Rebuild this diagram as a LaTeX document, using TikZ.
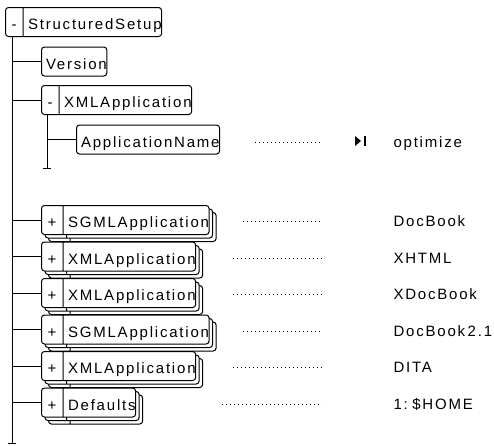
\documentclass[tikz,border=0pt]{standalone}
\usepackage{fontspec}
\setmainfont{Liberation Sans}[LetterSpace=12]
\usetikzlibrary{shapes.multipart,shadows}

% strut giving every element box the same height (22pt above, 7pt below the baseline)
\newcommand\boxstrut{\rule[-7pt]{0pt}{29pt}}
% sign cell of fixed width
\newcommand\sgn[2]{\boxstrut\makebox[#1pt]{#2}}
% label cell with side padding
\newcommand\lbl[1]{\boxstrut\hspace{4.5pt}#1\hspace{5pt}}
% narrow word space for the value column
\newcommand\narrowsp{\spaceskip=2.5pt\relax}

\begin{document}
\begin{tikzpicture}[x=1pt, y=-1pt, line width=1pt,
  every node/.style={font=\fontsize{15}{18}\selectfont},
  elem/.style={draw, fill=white, rounded corners=3pt, inner xsep=0pt, inner ysep=0pt, anchor=west},
  grp/.style={elem, rectangle split, rectangle split horizontal, rectangle split parts=2},
  stack/.style={
    copy shadow={shadow xshift=7pt, shadow yshift=-7pt, draw, fill=white},
    copy shadow={shadow xshift=3.5pt, shadow yshift=-3.5pt, draw, fill=white}},
  dots/.style={line width=0.8pt, dash pattern=on 0.8pt off 3.2pt},
  value/.style={anchor=west, inner sep=0pt, text height=10.7pt, text depth=0pt},
]
\useasboundingbox (0,0) rectangle (494,445);

% trunk ends
\coordinate (trunk) at (12,443);
\coordinate (sub) at (47,168);

% elements
\node[grp] (ss) at (5,22) {\sgn{17}{-}\nodepart{two}\lbl{StructuredSetup}};
\node[elem] (ver) at (41,61.5) {\lbl{Version}};
\node[grp] (xa) at (41,100) {\sgn{17}{-}\nodepart{two}\lbl{XMLApplication}};
\node[elem] (an) at (76,139.5) {\lbl{ApplicationName}};

\node[grp, stack] (r1) at (41,220) {\sgn{21}{+}\nodepart{two}\lbl{SGMLApplication}};
\node[grp, stack] (r2) at (41,256.5) {\sgn{21}{+}\nodepart{two}\lbl{XMLApplication}};
\node[grp, stack] (r3) at (41,293) {\sgn{21}{+}\nodepart{two}\lbl{XMLApplication}};
\node[grp, stack] (r4) at (41,329.5) {\sgn{21}{+}\nodepart{two}\lbl{SGMLApplication}};
\node[grp, stack] (r5) at (41,366) {\sgn{21}{+}\nodepart{two}\lbl{XMLApplication}};
\node[grp, stack] (r6) at (41,402.5) {\sgn{21}{+}\nodepart{two}\lbl{Defaults}};

% tree lines
\draw (trunk |- ss.south) -- (trunk);
\draw ([xshift=-4pt]trunk) -- ([xshift=4pt]trunk);
\foreach \n in {ver,xa,r1,r2,r3,r4,r5,r6}
  \draw (trunk |- \n.west) -- (\n.west);
\draw (sub |- xa.south) -- (sub);
\draw ([xshift=-4pt]sub) -- ([xshift=4pt]sub);
\draw (sub |- an.west) -- (an.west);

% values
\node[value] (v0) at (393,142) {optimize};
\node[value] (v1) at (393,221.5) {DocBook};
\node[value] (v2) at (393,258) {XHTML};
\node[value] (v3) at (393,294.5) {XDocBook};
\node[value] (v4) at (393,331) {\narrowsp DocBook 2.1};
\node[value] (v5) at (393,367.5) {DITA};
\node[value] (v6) at (393,404) {\narrowsp 1: \$HOME};

% leader dots
\coordinate (e0) at (322,142);
\draw[dots] (255,142) -- (e0);
\foreach \s/\y/\i in {243/221.5/1, 233/258/2, 233/294.5/3, 243/331/4, 233/367.5/5, 222/404/6}{
  \coordinate (e\i) at (322,\y);
  \draw[dots] (\s,\y) -- (e\i);
}

% default-value marker
\fill (355,136) -- (361,141) -- (355,146) -- cycle;
\fill (363.5,136) rectangle (366,146);
\end{tikzpicture}
\end{document}
